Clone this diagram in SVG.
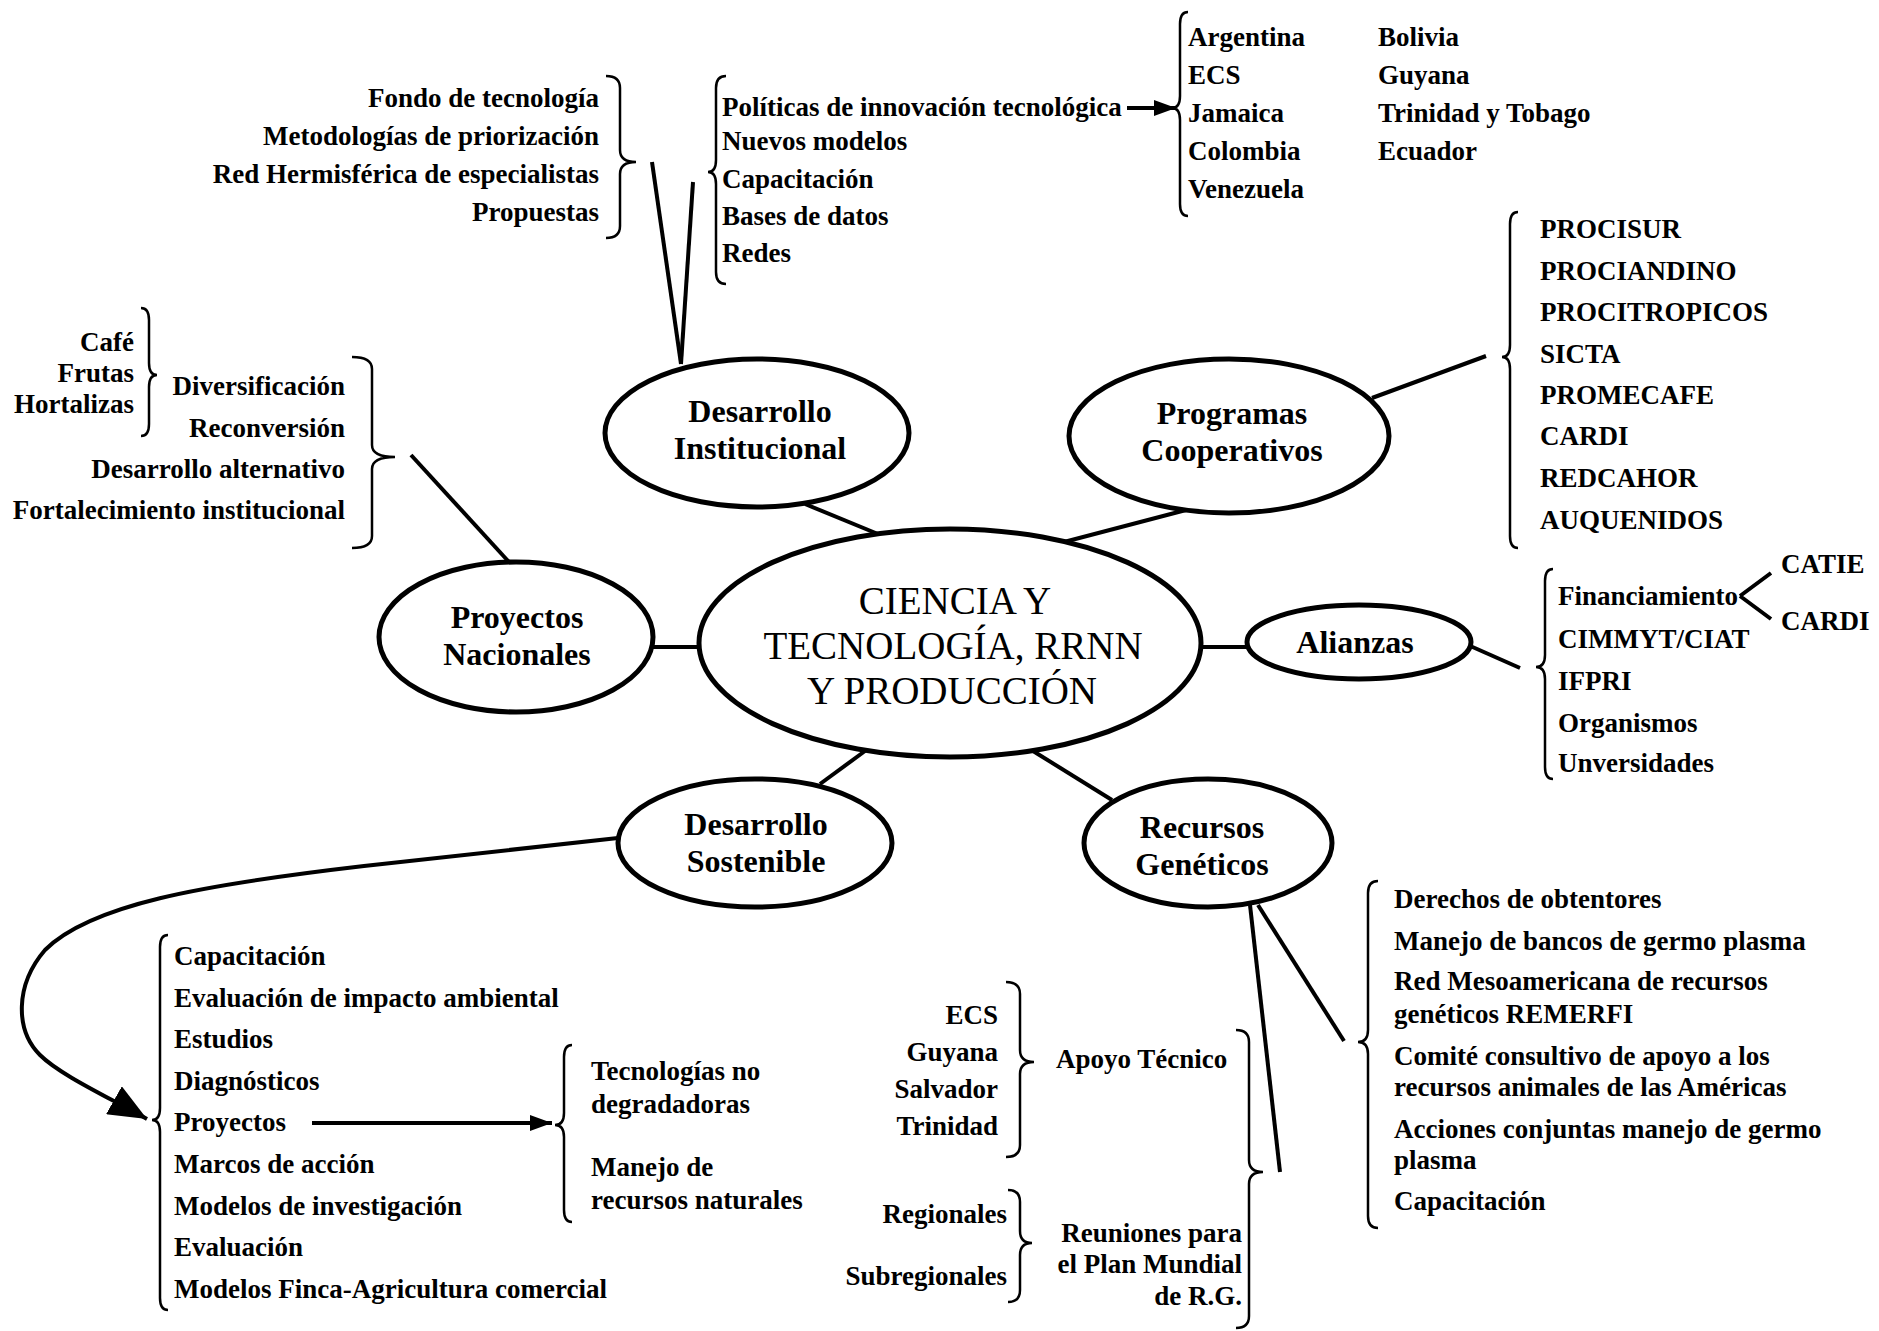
<svg xmlns="http://www.w3.org/2000/svg" width="1879" height="1331" viewBox="0 0 1879 1331">
<style>
.t{font-family:"Liberation Serif","Times New Roman",serif;font-weight:bold;font-size:27px;fill:#000}
.r{text-anchor:end}
.n{font-size:32px;text-anchor:middle}
.c{font-weight:normal;font-size:39px;text-anchor:middle}
.e{fill:#fff;stroke:#000;stroke-width:5}
.l{stroke:#000;stroke-width:4;fill:none}
.b{stroke:#000;stroke-width:2.5;fill:none}
</style>
<defs>
<marker id="ah" markerUnits="userSpaceOnUse" markerWidth="22" markerHeight="16" refX="22" refY="8" orient="auto"><path d="M0,0 L22,8 L0,16 z" fill="#000"/></marker>
<marker id="ahBig" markerUnits="userSpaceOnUse" markerWidth="38" markerHeight="32" refX="38" refY="16" orient="auto"><path d="M0,0 L38,16 L0,32 z" fill="#000"/></marker>
</defs>
<rect width="1879" height="1331" fill="#fff"/>

<g id="connectors">
<line class="l" x1="652" y1="162" x2="681" y2="364"/>
<line class="l" x1="693" y1="182" x2="681" y2="364"/>
<line class="l" x1="805" y1="504" x2="878" y2="534"/>
<line class="l" x1="1186" y1="510" x2="1064" y2="542"/>
<line class="l" x1="1372" y1="398" x2="1486" y2="356"/>
<line class="l" x1="652" y1="647" x2="699" y2="647"/>
<line class="l" x1="509" y1="562" x2="411" y2="455"/>
<line class="l" x1="1201" y1="647" x2="1248" y2="647"/>
<line class="l" x1="1468" y1="645" x2="1520" y2="668"/>
<line class="l" x1="865" y1="751" x2="820" y2="784"/>
<line class="l" x1="1033" y1="751" x2="1112" y2="800"/>
<line class="l" x1="1250" y1="905" x2="1280" y2="1172"/>
<line class="l" x1="1258" y1="905" x2="1344" y2="1041"/>
<path class="l" d="M1740,596 L1771,573 M1740,596 L1771,619"/>
<path class="l" d="M1127,108 L1176,108" marker-end="url(#ah)" stroke-width="3.5"/>
<path class="l" d="M312,1123 L552,1123" marker-end="url(#ah)" stroke-width="3.5"/>
<path class="l" d="M618,838 L364,866 C200,885 90,905 45,950 C15,985 15,1030 40,1055 C60,1075 110,1098 147,1119" marker-end="url(#ahBig)" stroke-width="5"/>
</g>

<g id="brackets">
<path class="b" d="M606,76 Q620,76 620,88 L620,150 Q620,162 636,162 Q620,162 620,174 L620,226 Q620,238 606,238"/>
<path class="b" d="M726,76 Q716,76 716,88 L716,160 Q716,172 708,172 Q716,172 716,184 L716,272 Q716,284 726,284"/>
<path class="b" d="M1188,12 Q1180,12 1180,24 L1180,96 Q1180,108 1172,108 Q1180,108 1180,120 L1180,204 Q1180,216 1188,216"/>
<path class="b" d="M1518,212 Q1510,212 1510,224 L1510,345 Q1510,357 1502,357 Q1510,357 1510,369 L1510,536 Q1510,548 1518,548"/>
<path class="b" d="M141,308 Q149,308 149,320 L149,363 Q149,375 157,375 Q149,375 149,387 L149,424 Q149,436 141,436"/>
<path class="b" d="M352,357 Q372,357 372,369 L372,445 Q372,457 395,457 Q372,457 372,469 L372,536 Q372,548 352,548"/>
<path class="b" d="M1553,569 Q1545,569 1545,581 L1545,655 Q1545,667 1536,667 Q1545,667 1545,679 L1545,767 Q1545,779 1553,779"/>
<path class="b" d="M1378,881 Q1368,881 1368,893 L1368,1030 Q1368,1042 1358,1042 Q1368,1042 1368,1054 L1368,1216 Q1368,1228 1378,1228"/>
<path class="b" d="M1006,982 Q1020,982 1020,994 L1020,1050 Q1020,1062 1034,1062 Q1020,1062 1020,1074 L1020,1145 Q1020,1157 1006,1157"/>
<path class="b" d="M1236,1030 Q1249,1030 1249,1042 L1249,1160 Q1249,1172 1263,1172 Q1249,1172 1249,1184 L1249,1316 Q1249,1328 1236,1328"/>
<path class="b" d="M1008,1190 Q1020,1190 1020,1202 L1020,1231 Q1020,1243 1032,1243 Q1020,1243 1020,1255 L1020,1290 Q1020,1302 1008,1302"/>
<path class="b" d="M168,935 Q160,935 160,947 L160,1108 Q160,1120 152,1120 Q160,1120 160,1132 L160,1298 Q160,1310 168,1310"/>
<path class="b" d="M572,1045 Q564,1045 564,1057 L564,1113 Q564,1125 555,1125 Q564,1125 564,1137 L564,1210 Q564,1222 572,1222"/>
</g>

<g id="central">
<ellipse class="e" cx="950" cy="643" rx="251" ry="114" stroke-width="6"/>
<text class="t c" x="955" y="614">CIENCIA Y</text>
<text class="t c" x="953" y="659">TECNOLOGÍA, RRNN</text>
<text class="t c" x="952" y="704">Y PRODUCCIÓN</text>
</g>

<g id="desarrollo-institucional">
<ellipse class="e" cx="757" cy="433" rx="152" ry="74"/>
<text class="t n" x="760" y="422">Desarrollo</text>
<text class="t n" x="760" y="459">Institucional</text>
</g>

<g id="programas-cooperativos">
<ellipse class="e" cx="1229" cy="436" rx="160" ry="77"/>
<text class="t n" x="1232" y="424">Programas</text>
<text class="t n" x="1232" y="461">Cooperativos</text>
</g>

<g id="proyectos-nacionales">
<ellipse class="e" cx="516" cy="637" rx="137" ry="75"/>
<text class="t n" x="517" y="628">Proyectos</text>
<text class="t n" x="517" y="665">Nacionales</text>
</g>

<g id="alianzas">
<ellipse class="e" cx="1359" cy="642" rx="112" ry="37"/>
<text class="t n" x="1355" y="653">Alianzas</text>
</g>

<g id="desarrollo-sostenible">
<ellipse class="e" cx="755" cy="843" rx="137" ry="64"/>
<text class="t n" x="756" y="835">Desarrollo</text>
<text class="t n" x="756" y="872">Sostenible</text>
</g>

<g id="recursos-geneticos">
<ellipse class="e" cx="1208" cy="843" rx="124" ry="64"/>
<text class="t n" x="1202" y="838">Recursos</text>
<text class="t n" x="1202" y="875">Genéticos</text>
</g>

<g id="lista-institucional-izq">
<text class="t r" x="599" y="107">Fondo de tecnología</text>
<text class="t r" x="599" y="145">Metodologías de priorización</text>
<text class="t r" x="599" y="183">Red Hermisférica de especialistas</text>
<text class="t r" x="599" y="221">Propuestas</text>
</g>

<g id="lista-institucional-der">
<text class="t" x="722" y="116" font-size="26.5">Políticas de innovación tecnológica</text>
<text class="t" x="722" y="150">Nuevos modelos</text>
<text class="t" x="722" y="188">Capacitación</text>
<text class="t" x="722" y="225">Bases de datos</text>
<text class="t" x="722" y="262">Redes</text>
</g>

<g id="paises">
<text class="t" x="1188" y="46">Argentina</text>
<text class="t" x="1188" y="84">ECS</text>
<text class="t" x="1188" y="122">Jamaica</text>
<text class="t" x="1188" y="160">Colombia</text>
<text class="t" x="1188" y="198">Venezuela</text>
<text class="t" x="1378" y="46">Bolivia</text>
<text class="t" x="1378" y="84">Guyana</text>
<text class="t" x="1378" y="122">Trinidad y Tobago</text>
<text class="t" x="1378" y="160">Ecuador</text>
</g>

<g id="lista-programas">
<text class="t" x="1540" y="238">PROCISUR</text>
<text class="t" x="1540" y="280">PROCIANDINO</text>
<text class="t" x="1540" y="321">PROCITROPICOS</text>
<text class="t" x="1540" y="363">SICTA</text>
<text class="t" x="1540" y="404">PROMECAFE</text>
<text class="t" x="1540" y="445">CARDI</text>
<text class="t" x="1540" y="487">REDCAHOR</text>
<text class="t" x="1540" y="529">AUQUENIDOS</text>
</g>

<g id="lista-proyectos">
<text class="t r" x="134" y="351">Café</text>
<text class="t r" x="134" y="382">Frutas</text>
<text class="t r" x="134" y="413">Hortalizas</text>
<text class="t r" x="345" y="395">Diversificación</text>
<text class="t r" x="345" y="437">Reconversión</text>
<text class="t r" x="345" y="478">Desarrollo alternativo</text>
<text class="t r" x="345" y="519">Fortalecimiento institucional</text>
</g>

<g id="lista-alianzas">
<text class="t" x="1558" y="605">Financiamiento</text>
<text class="t" x="1558" y="648">CIMMYT/CIAT</text>
<text class="t" x="1558" y="690">IFPRI</text>
<text class="t" x="1558" y="732">Organismos</text>
<text class="t" x="1558" y="772">Unversidades</text>
<text class="t" x="1781" y="573">CATIE</text>
<text class="t" x="1781" y="630">CARDI</text>
</g>

<g id="lista-recursos">
<text class="t" x="1394" y="908">Derechos de obtentores</text>
<text class="t" x="1394" y="950">Manejo de bancos de germo plasma</text>
<text class="t" x="1394" y="990">Red Mesoamericana de recursos</text>
<text class="t" x="1394" y="1023">genéticos REMERFI</text>
<text class="t" x="1394" y="1065">Comité consultivo de apoyo a los</text>
<text class="t" x="1394" y="1096">recursos animales de las Américas</text>
<text class="t" x="1394" y="1138">Acciones conjuntas manejo de germo</text>
<text class="t" x="1394" y="1169">plasma</text>
<text class="t" x="1394" y="1210">Capacitación</text>
</g>

<g id="lista-apoyo">
<text class="t r" x="998" y="1024">ECS</text>
<text class="t r" x="998" y="1061">Guyana</text>
<text class="t r" x="998" y="1098">Salvador</text>
<text class="t r" x="998" y="1135">Trinidad</text>
<text class="t" x="1056" y="1068">Apoyo Técnico</text>
<text class="t r" x="1007" y="1223">Regionales</text>
<text class="t r" x="1007" y="1285">Subregionales</text>
<text class="t r" x="1242" y="1242">Reuniones para</text>
<text class="t r" x="1242" y="1273">el Plan Mundial</text>
<text class="t r" x="1242" y="1305">de R.G.</text>
</g>

<g id="lista-sostenible">
<text class="t" x="174" y="965">Capacitación</text>
<text class="t" x="174" y="1007">Evaluación de impacto ambiental</text>
<text class="t" x="174" y="1048">Estudios</text>
<text class="t" x="174" y="1090">Diagnósticos</text>
<text class="t" x="174" y="1131">Proyectos</text>
<text class="t" x="174" y="1173">Marcos de acción</text>
<text class="t" x="174" y="1215">Modelos de investigación</text>
<text class="t" x="174" y="1256">Evaluación</text>
<text class="t" x="174" y="1298">Modelos Finca-Agricultura comercial</text>
<text class="t" x="591" y="1080">Tecnologías no</text>
<text class="t" x="591" y="1113">degradadoras</text>
<text class="t" x="591" y="1176">Manejo de</text>
<text class="t" x="591" y="1209">recursos naturales</text>
</g>
</svg>
